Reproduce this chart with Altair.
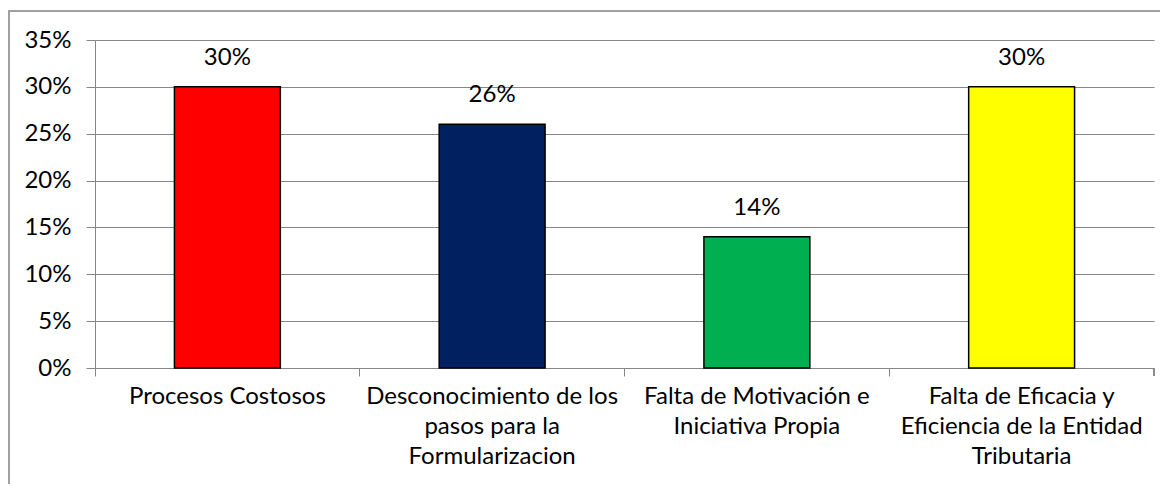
import altair as alt
import pandas as pd

categories = [
    "Procesos Costosos",
    "Desconocimiento de los|pasos para la|Formularizacion",
    "Falta de Motivación e|Iniciativa Propia",
    "Falta de Eficacia y|Eficiencia de la Entidad|Tributaria",
]
values = [0.30, 0.26, 0.14, 0.30]
colors = ["#FF0000", "#002060", "#00B050", "#FFFF00"]
y_ticks = [0, 0.05, 0.10, 0.15, 0.20, 0.25, 0.30, 0.35]

df = pd.DataFrame({"cat": categories, "val": values, "color": colors})

W, H = 1059, 328
FONT = "Lato"
FS = 24

x_enc = alt.X(
    "cat:N",
    sort=categories,
    scale=alt.Scale(paddingInner=0, paddingOuter=0),
    axis=alt.Axis(
        title=None,
        labelAngle=0,
        labelExpr="split(datum.label, '|')",
        labelFont=FONT,
        labelFontSize=FS,
        labelColor="#000000",
        labelLineHeight=30,
        labelPadding=8,
        labelLimit=300,
        bandPosition=0,
        tickSize=8,
        tickColor="#868686",
        domainColor="#868686",
        grid=False,
    ),
)

y_enc = alt.Y(
    "val:Q",
    scale=alt.Scale(domain=[0, 0.35], nice=False),
    axis=alt.Axis(
        title=None,
        values=y_ticks,
        format=".0%",
        labelFont=FONT,
        labelFontSize=FS,
        labelColor="#000000",
        labelPadding=15,
        tickSize=9,
        tickColor="#868686",
        domainColor="#868686",
        gridColor="#868686",
    ),
)

bars = alt.Chart(df).mark_bar(
    width=alt.RelativeBandSize(0.4), stroke="#000000", strokeWidth=1.5
).encode(
    x=x_enc,
    y=y_enc,
    color=alt.Color("color:N", scale=None, legend=None),
)

labels = alt.Chart(df).mark_text(
    font=FONT, fontSize=FS, color="#000000", baseline="middle", dy=-29
).encode(
    x=alt.X("cat:N", sort=categories),
    y=alt.Y("val:Q"),
    text=alt.Text("val:Q", format=".0%"),
)

end_tick = alt.Chart(df).mark_rule(color="#868686").encode(
    x=alt.value(W), y=alt.value(H), y2=alt.value(H + 8)
)

frame = alt.Chart(df).mark_rect(
    fill=None, stroke="#A0A0A0", strokeWidth=2, clip=False
).encode(
    x=alt.value(-86), x2=alt.value(W + 60), y=alt.value(-29), y2=alt.value(H + 300)
)

chart = alt.layer(frame, bars, labels, end_tick).properties(
    width=W,
    height=H,
    padding={"left": 87, "top": 32, "right": 6, "bottom": 116},
    autosize=alt.AutoSizeParams(type="none"),
).configure_view(stroke=None)

chart.save("out.html", embed_options={"renderer": "svg", "actions": False})
